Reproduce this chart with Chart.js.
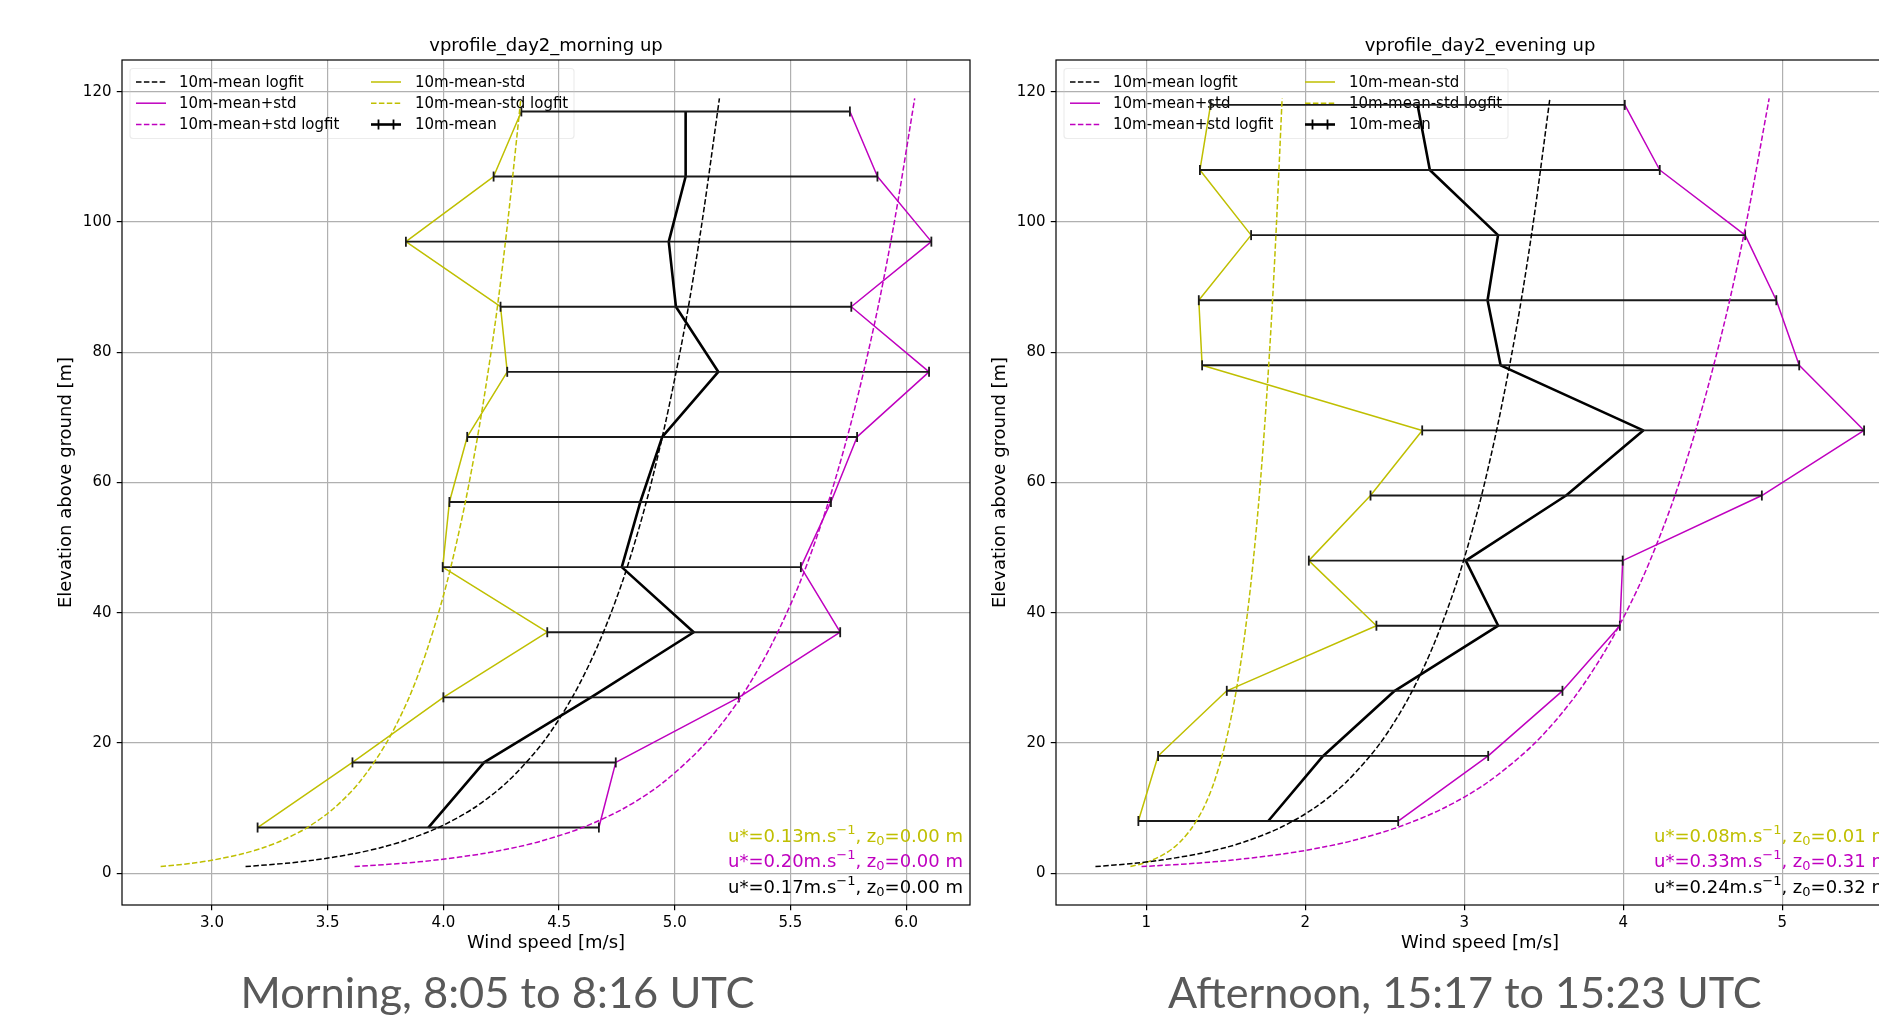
<!DOCTYPE html>
<html><head><meta charset="utf-8">
<script src="https://cdn.jsdelivr.net/npm/chart.js@4.4.0/dist/chart.umd.min.js"></script>
<style>
html,body{margin:0;padding:0;background:#fff;overflow:hidden;width:1879px;height:1016px;position:relative;}
canvas{position:absolute;top:0;}
#c1{left:0;} #c2{left:934px;}
.cap{position:absolute;font-family:Lato,'Open Sans',sans-serif;color:#595959;font-size:42px;white-space:nowrap;line-height:1;transform-origin:center center;}
</style></head><body>
<canvas id="c1" width="990" height="1016"></canvas>
<canvas id="c2" width="990" height="1016"></canvas>
<div class="cap" id="cap1">Morning, 8:05 to 8:16 UTC</div>
<div class="cap" id="cap2">Afternoon, 15:17 to 15:23 UTC</div>
<script>
// ---------- DATA ----------
const fitHeights = [1, 1.5, 2, 3, 4, 5, 7, 10, 14, 20, 27, 35, 45, 57, 70, 85, 100, 119];
const yTicks = [0, 20, 40, 60, 80, 100, 120];
const yTickLabels = ['0', '20', '40', '60', '80', '100', '120'];

// Morning
const morningHeights = [7, 17, 27, 37, 47, 57, 67, 77, 87, 97, 107, 117];
const morningMean  = [3.935, 4.176, 4.638, 5.082, 4.771, 4.851, 4.946, 5.188, 5.005, 4.974, 5.047, 5.047];
const morningLower = [3.197, 3.607, 4.000, 4.449, 3.997, 4.026, 4.103, 4.276, 4.247, 3.838, 4.217, 4.337];
const morningUpper = [4.672, 4.745, 5.277, 5.715, 5.545, 5.675, 5.788, 6.099, 5.763, 6.109, 5.876, 5.757];
const morningFitMean  = [3.145, 3.319, 3.442, 3.616, 3.739, 3.834, 3.979, 4.132, 4.276, 4.429, 4.557, 4.668, 4.776, 4.877, 4.965, 5.049, 5.118, 5.193];
const morningFitLower = [2.778, 2.910, 3.004, 3.136, 3.230, 3.302, 3.412, 3.528, 3.638, 3.754, 3.852, 3.936, 4.018, 4.095, 4.162, 4.226, 4.278, 4.335];
const morningFitUpper = [3.616, 3.821, 3.967, 4.173, 4.318, 4.431, 4.602, 4.783, 4.953, 5.134, 5.286, 5.417, 5.545, 5.664, 5.768, 5.867, 5.949, 6.037];
const morningUstar = ['0.13', '0.20', '0.17'];   // lower, upper, mean
const morningZ0    = ['0.00', '0.00', '0.00'];
const morningXTicks = [3.0, 3.5, 4.0, 4.5, 5.0, 5.5, 6.0];
const morningXTickLabels = ['3.0', '3.5', '4.0', '4.5', '5.0', '5.5', '6.0'];

// Evening
const eveningHeights = [8, 18, 28, 38, 48, 58, 68, 78, 88, 98, 108, 118];
const eveningMean  = [1.767, 2.112, 2.562, 3.213, 3.009, 3.640, 4.125, 3.228, 3.146, 3.212, 2.783, 2.706];
const eveningLower = [0.950, 1.074, 1.506, 2.447, 2.022, 2.410, 2.735, 1.351, 1.330, 1.659, 1.337, 1.404];
const eveningUpper = [2.584, 3.150, 3.617, 3.978, 3.996, 4.871, 5.514, 5.106, 4.962, 4.766, 4.229, 4.009];
const eveningFitMean  = [0.680, 0.922, 1.094, 1.337, 1.509, 1.642, 1.844, 2.057, 2.258, 2.472, 2.651, 2.806, 2.957, 3.098, 3.220, 3.337, 3.434, 3.538];
const eveningFitLower = [0.900, 0.981, 1.038, 1.119, 1.177, 1.221, 1.288, 1.360, 1.427, 1.498, 1.558, 1.610, 1.660, 1.707, 1.748, 1.787, 1.819, 1.854];
const eveningFitUpper = [0.970, 1.305, 1.542, 1.878, 2.115, 2.299, 2.577, 2.872, 3.150, 3.445, 3.692, 3.906, 4.115, 4.310, 4.479, 4.640, 4.774, 4.917];
const eveningUstar = ['0.08', '0.33', '0.24'];
const eveningZ0    = ['0.01', '0.31', '0.32'];
const eveningXTicks = [1, 2, 3, 4, 5];
const eveningXTickLabels = ['1', '2', '3', '4', '5'];

// ---------- STYLE ----------
const YEL = '#bfbf00', MAG = '#bf00bf', BLK = '#000000';
const FONT = "'DejaVu Sans', sans-serif";
Chart.defaults.font.family = FONT;

function drawRich(ctx, parts, xRight, y, size, color) {
  const big = size + 'px ' + FONT, small = Math.round(size * 0.7) + 'px ' + FONT;
  let total = 0;
  parts.forEach(p => { ctx.font = p[1] ? small : big; p.w = ctx.measureText(p[0]).width; total += p.w; });
  let x = xRight - total;
  ctx.fillStyle = color; ctx.textAlign = 'left'; ctx.textBaseline = 'alphabetic';
  parts.forEach(p => {
    ctx.font = p[1] ? small : big;
    const dy = p[1] === 'sup' ? -size * 0.4 : (p[1] === 'sub' ? size * 0.2 : 0);
    ctx.fillText(p[0], x, y + dy);
    x += p.w;
  });
}

const extras = {
  id: 'extras',
  beforeDatasetsDraw(chart, args, o) {
    const ctx = chart.ctx, a = chart.chartArea;
    ctx.save();
    // legend frame (nearly transparent)
    const fx = a.left + 8, fy = a.top + 8.5, fw = 444, fh = 70, r = 3;
    ctx.strokeStyle = 'rgba(200,200,200,0.35)'; ctx.lineWidth = 1.2;
    ctx.beginPath();
    ctx.moveTo(fx + r, fy); ctx.lineTo(fx + fw - r, fy); ctx.quadraticCurveTo(fx + fw, fy, fx + fw, fy + r);
    ctx.lineTo(fx + fw, fy + fh - r); ctx.quadraticCurveTo(fx + fw, fy + fh, fx + fw - r, fy + fh);
    ctx.lineTo(fx + r, fy + fh); ctx.quadraticCurveTo(fx, fy + fh, fx, fy + fh - r);
    ctx.lineTo(fx, fy + r); ctx.quadraticCurveTo(fx, fy, fx + r, fy); ctx.closePath(); ctx.stroke();
    const rows = [a.top + 22, a.top + 43.2, a.top + 64.5];
    const entries = [
      {c: 0, r: 0, t: '10m-mean logfit', col: BLK, dash: true},
      {c: 0, r: 1, t: '10m-mean+std', col: MAG},
      {c: 0, r: 2, t: '10m-mean+std logfit', col: MAG, dash: true},
      {c: 1, r: 0, t: '10m-mean-std', col: YEL},
      {c: 1, r: 1, t: '10m-mean-std logfit', col: YEL, dash: true},
      {c: 1, r: 2, t: '10m-mean', col: BLK, err: true}
    ];
    ctx.font = '15px ' + FONT; ctx.textBaseline = 'middle'; ctx.textAlign = 'left';
    entries.forEach(e => {
      const x0 = a.left + (e.c ? 249 : 14), x1 = x0 + 30, y = rows[e.r];
      ctx.strokeStyle = e.col; ctx.lineWidth = e.err ? 2.6 : 1.5;
      ctx.setLineDash(e.dash ? [5.5, 2.4] : []);
      ctx.beginPath(); ctx.moveTo(x0, y); ctx.lineTo(x1, y); ctx.stroke();
      ctx.setLineDash([]);
      if (e.err) {
        ctx.lineWidth = 1.8;
        [x0 + 7.5, x1 - 7.5].forEach(tx => { ctx.beginPath(); ctx.moveTo(tx, y - 5); ctx.lineTo(tx, y + 5); ctx.stroke(); });
      }
      ctx.fillStyle = '#000';
      ctx.fillText(e.t, a.left + (e.c ? 293 : 57), y + 1);
    });
    ctx.restore();
  },
  afterDraw(chart, args, o) {
    const ctx = chart.ctx, a = chart.chartArea;
    ctx.save();
    // frame
    ctx.strokeStyle = '#000'; ctx.lineWidth = 1.2;
    ctx.strokeRect(a.left, a.top, a.right - a.left, a.bottom - a.top);
    // title
    ctx.fillStyle = '#000'; ctx.textAlign = 'center'; ctx.textBaseline = 'middle';
    ctx.font = '18px ' + FONT;
    ctx.fillText(o.title, (a.left + a.right) / 2, 46.5);
    // x label
    ctx.fillText('Wind speed [m/s]', (a.left + a.right) / 2, 943.5);
    // y label
    ctx.save();
    ctx.translate(a.left - 55.5, (a.top + a.bottom) / 2);
    ctx.rotate(-Math.PI / 2);
    ctx.fillText('Elevation above ground [m]', 0, 0);
    ctx.restore();
    // annotations
    const cols = [YEL, MAG, BLK], base = [a.bottom - 63.5, a.bottom - 38.5, a.bottom - 12.5];
    for (let i = 0; i < 3; i++) {
      drawRich(ctx, [['u*=' + o.ustar[i] + 'm.s', null], ['\u22121', 'sup'], [', z', null], ['0', 'sub'], ['=' + o.z0[i] + ' m', null]],
        a.right + o.annoDx, base[i], 18, cols[i]);
    }
    ctx.restore();
  }
};

function makeChart(id, d) {
  const pts = (xs, ys) => xs.map((x, i) => ({x: x, y: ys[i]}));
  const err = [];
  d.h.forEach((h, i) => { err.push({x: d.lo[i], y: h}, {x: d.hi[i], y: h}, {x: null, y: null}); });
  const line = (label, data, col, w, dash) => ({
    label, data, borderColor: col, backgroundColor: col, borderWidth: w, borderDash: dash ? [5.5, 2.4] : [],
    showLine: true, pointRadius: 0, pointHoverRadius: 0, tension: dash ? 0.3 : 0, fill: false,
    borderJoinStyle: 'round', borderCapStyle: 'butt'
  });
  const datasets = [
    line('10m-mean logfit', pts(d.fitMean, fitHeights), BLK, 1.5, true),
    line('10m-mean-std logfit', pts(d.fitLower, fitHeights), YEL, 1.5, true),
    line('10m-mean+std logfit', pts(d.fitUpper, fitHeights), MAG, 1.5, true),
    Object.assign(line('errorbars', err, '#1a1a1a', 1.9, false), {
      pointRadius: 5, pointStyle: 'line', rotation: 90, pointBorderWidth: 1.8, pointBorderColor: '#1a1a1a'
    }),
    line('10m-mean', pts(d.mean, d.h), BLK, 2.6, false),
    line('10m-mean+std', pts(d.hi, d.h), MAG, 1.5, false),
    line('10m-mean-std', pts(d.lo, d.h), YEL, 1.5, false)
  ];
  return new Chart(document.getElementById(id), {
    type: 'scatter',
    data: {datasets},
    options: {
      responsive: false, animation: false, devicePixelRatio: 1,
      layout: {padding: {left: 0, top: 60, right: 20, bottom: 0}},
      plugins: {legend: {display: false}, tooltip: {enabled: false}, title: {display: false},
        extras: {title: d.title, ustar: d.ustar, z0: d.z0, annoDx: d.annoDx}},
      scales: {
        x: {
          type: 'linear', min: d.xmin, max: d.xmax,
          afterBuildTicks: s => { s.ticks = d.xt.map(v => ({value: v})); },
          afterFit: s => { s.height = 111; },
          ticks: {autoSkip: false, maxRotation: 0, padding: 4, color: '#000', font: {size: 15},
            callback: (v, i) => d.xtl[i]},
          grid: {color: '#b0b0b0', lineWidth: 1.2, tickColor: '#000', tickLength: 5.25, tickWidth: 1.2},
          border: {display: false}
        },
        y: {
          type: 'linear', min: -4.9, max: 124.9,
          afterBuildTicks: s => { s.ticks = yTicks.map(v => ({value: v})); },
          afterFit: s => { s.width = 122; },
          ticks: {autoSkip: false, padding: 5.25, color: '#000', font: {size: 15},
            callback: (v, i) => yTickLabels[i]},
          grid: {color: '#b0b0b0', lineWidth: 1.2, tickColor: '#000', tickLength: 5.25, tickWidth: 1.2},
          border: {display: false}
        }
      }
    },
    plugins: [extras]
  });
}

makeChart('c1', {
  title: 'vprofile_day2_morning up', h: morningHeights, mean: morningMean, lo: morningLower, hi: morningUpper,
  fitMean: morningFitMean, fitLower: morningFitLower, fitUpper: morningFitUpper,
  ustar: morningUstar, z0: morningZ0, xt: morningXTicks, xtl: morningXTickLabels, xmin: 2.611, xmax: 6.276, annoDx: -7
});
makeChart('c2', {
  title: 'vprofile_day2_evening up', h: eveningHeights, mean: eveningMean, lo: eveningLower, hi: eveningUpper,
  fitMean: eveningFitMean, fitLower: eveningFitLower, fitUpper: eveningFitUpper,
  ustar: eveningUstar, z0: eveningZ0, xt: eveningXTicks, xtl: eveningXTickLabels, xmin: 0.432, xmax: 5.765, annoDx: -15
});

function placeCap(id, cx, baseline, targetW) {
  const el = document.getElementById(id);
  const w = el.offsetWidth;
  el.style.left = (cx - w / 2) + 'px';
  el.style.top = (baseline - 37.3) + 'px';
  el.style.transform = 'scaleX(' + (targetW / w) + ')';
}
placeCap('cap1', 497, 1008.5, 514);
placeCap('cap2', 1465, 1008.5, 594);
</script>
</body></html>
